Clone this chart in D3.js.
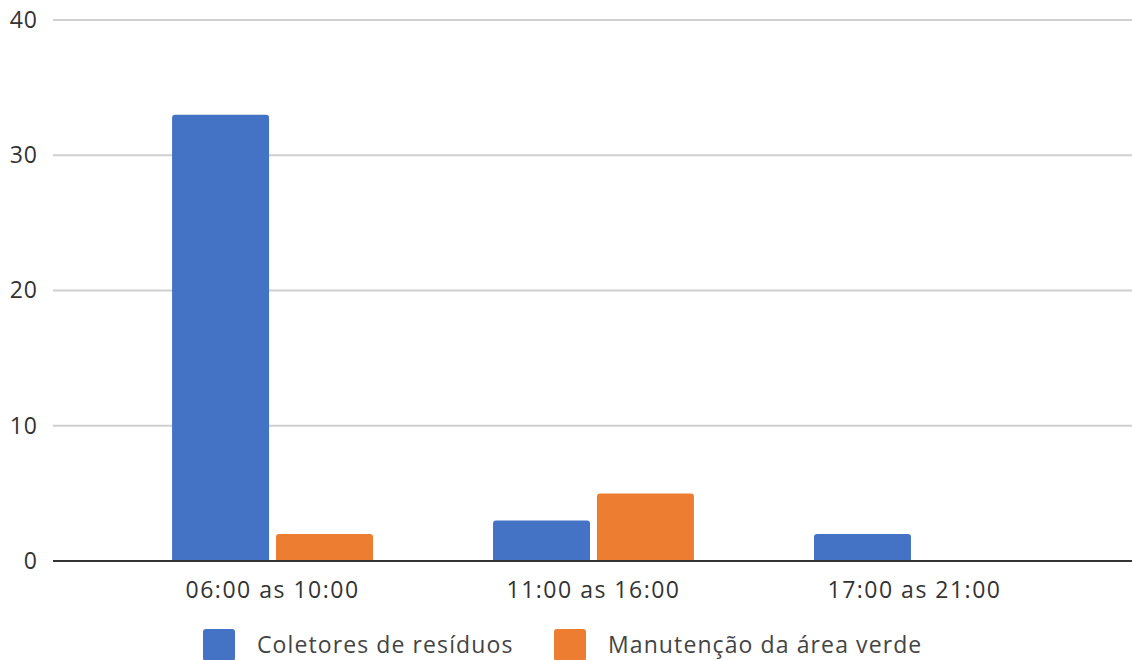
<!DOCTYPE html>
<html>
<head>
<meta charset="utf-8">
<script src="https://cdn.jsdelivr.net/npm/d3@7"></script>
<style>
  html, body { margin: 0; padding: 0; background: #fff; }
  svg { display: block; }
  text { font-family: "Open Sans", sans-serif; }
</style>
</head>
<body>
<svg id="chart" width="1132" height="660"></svg>
<script>
// Time slots on the x axis
const categories = ["06:00 as 10:00", "11:00 as 16:00", "17:00 as 21:00"];
// Series names (legend) and their values per time slot
const seriesNames = ["Coletores de resíduos", "Manutenção da área verde"];
const coletores = [33, 3, 2];
const manutencao = [2, 5, 0];
const seriesColors = ["#4472C4", "#ED7D31"];
const yTicks = [0, 10, 20, 30, 40];

const seriesValues = [coletores, manutencao];
const rows = categories.map((c, i) => ({
  category: c,
  values: seriesNames.map((s, j) => ({ series: s, value: seriesValues[j][i], color: seriesColors[j] }))
}));

const svg = d3.select("#chart");
const plot = { left: 53, right: 1134, top: 20, bottom: 561 };

const y = d3.scaleLinear().domain([0, 40]).range([plot.bottom, plot.top]);
const x0 = d3.scaleBand().domain(categories).range([plot.left, plot.right])
  .paddingInner(0.374).paddingOuter(0.371);
const x1 = d3.scaleBand().domain(seriesNames).range([0, x0.bandwidth()])
  .paddingInner(0.067).paddingOuter(0);

// Horizontal gridlines
svg.append("g")
  .selectAll("line")
  .data(yTicks.filter(t => t !== 0))
  .join("line")
  .attr("x1", plot.left).attr("x2", 1132)
  .attr("y1", d => y(d)).attr("y2", d => y(d))
  .attr("stroke", "#cfcfcf").attr("stroke-width", 2);

// Y axis labels
const yAxis = d3.axisLeft(y).tickValues(yTicks).tickSize(0).tickPadding(0);
const yg = svg.append("g").attr("transform", `translate(${plot.left - 15},0)`).call(yAxis);
yg.select(".domain").remove();
yg.selectAll("text")
  .attr("font-size", 23).attr("fill", "#333")
  .attr("letter-spacing", 1)
  .attr("font-family", "'Open Sans', sans-serif");

// Bars with rounded top corners
function barPath(x, yTop, w, h, r) {
  if (h <= 0) return "";
  r = Math.min(r, h, w / 2);
  return `M${x},${yTop + h}V${yTop + r}Q${x},${yTop} ${x + r},${yTop}` +
         `H${x + w - r}Q${x + w},${yTop} ${x + w},${yTop + r}V${yTop + h}Z`;
}

svg.append("g")
  .selectAll("g")
  .data(rows)
  .join("g")
  .attr("transform", d => `translate(${x0(d.category)},0)`)
  .selectAll("path")
  .data(d => d.values)
  .join("path")
  .attr("d", d => barPath(x1(d.series), y(d.value), x1.bandwidth(), y(0) - y(d.value), 3))
  .attr("fill", d => d.color);

// Baseline
svg.append("line")
  .attr("x1", plot.left).attr("x2", 1132)
  .attr("y1", y(0)).attr("y2", y(0))
  .attr("stroke", "#333").attr("stroke-width", 2);

// X axis labels
const xAxis = d3.axisBottom(x0).tickSize(0).tickPadding(0);
const xg = svg.append("g").attr("transform", `translate(0,${y(0)})`).call(xAxis);
xg.select(".domain").remove();
xg.selectAll("text")
  .attr("dy", null)
  .attr("y", 37)
  .attr("font-size", 23).attr("fill", "#333")
  .attr("letter-spacing", 1.5)
  .attr("font-family", "'Open Sans', sans-serif");

// Legend
const legendX = [203, 554];
const legend = svg.append("g")
  .selectAll("g")
  .data(seriesNames)
  .join("g")
  .attr("transform", (d, i) => `translate(${legendX[i]},629)`);
legend.append("rect")
  .attr("width", 32).attr("height", 32).attr("rx", 3)
  .attr("fill", (d, i) => seriesColors[i]);
legend.append("text")
  .attr("x", 54).attr("y", 24)
  .attr("font-size", 23).attr("fill", "#444")
  .attr("letter-spacing", 1.1)
  .text(d => d);
</script>
</body>
</html>
